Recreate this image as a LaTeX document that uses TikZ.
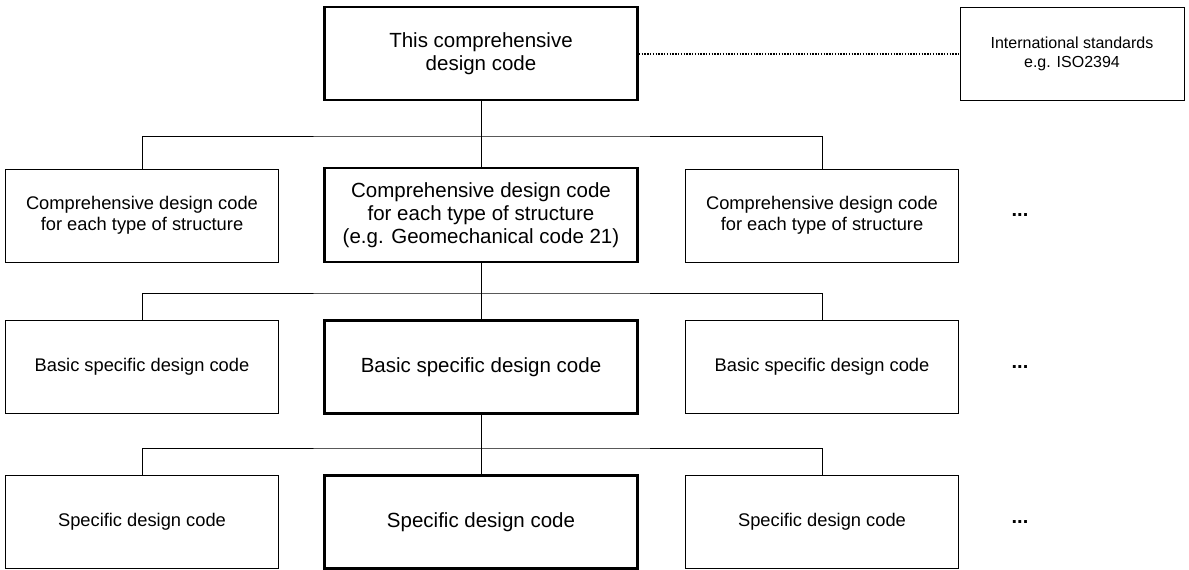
\documentclass[tikz,border=0pt]{standalone}
\usepackage{fontspec}
\setmainfont{Liberation Sans}
\usepackage{tikz}

\begin{document}
\begin{tikzpicture}[x=1pt,y=-1pt,line width=1pt]
% Box styles
\tikzset{
    codebox/.style={
        draw,
        align=center,
        inner sep=0pt,
        minimum height=93pt,
        font=\fontsize{18.3}{21}\selectfont
    },
    sidebox/.style={codebox, minimum width=273pt},
    mainbox/.style={
        codebox,
        line width=2.6pt,
        minimum width=313pt,
        font=\fontsize{20.5}{23}\selectfont
    },
    more/.style={font=\fontsize{20}{22}\selectfont\bfseries}
}
\useasboundingbox (0,0) rectangle (1189,570);
% Top level
\node[mainbox] (top) at (481,53.5) {This comprehensive\\design code};
\node
[
    codebox,
    minimum width=224pt,
    font=\fontsize{16}{19}\selectfont
] (iso) at (1072,53.5) {International standards\\e.g. ISO2394};
\draw[dash pattern=on 1.4pt off 1.4pt,line width=2pt] (top) -- (iso);
% Structure level
\node[sidebox] (struc1) at (142,215.5) {Comprehensive design code\\for each type of structure};
\node[mainbox, minimum height=94pt] (struc2) at (481,215) {Comprehensive design code\\for each type of structure\\(e.g. Geomechanical code 21)};
\node[sidebox] (struc3) at (822,215.5) {Comprehensive design code\\for each type of structure};
\node[more] (dots1) at (1020,215) {...};
% Basic level
\node[sidebox] (basic1) at (142,367) {Basic specific design code};
\node[mainbox] (basic2) at (481,367) {Basic specific design code};
\node[sidebox] (basic3) at (822,367) {Basic specific design code};
\node[more] (dots2) at (1020,367) {...};
% Specific level
\node[sidebox] (spec1) at (142,522) {Specific design code};
\node[mainbox] (spec2) at (481,522) {Specific design code};
\node[sidebox] (spec3) at (822,522) {Specific design code};
\node[more] (dots3) at (1020,522) {...};
% Tree lines
\coordinate (bus1) at (481,136);
\coordinate (bus2) at (481,293);
\coordinate (bus3) at (481,448);
\draw (top) -- (struc2);
\draw (struc1.north) |- (bus1) -| (struc3.north);
\draw (struc2) -- (basic2);
\draw (basic1.north) |- (bus2) -| (basic3.north);
\draw (basic2) -- (spec2);
\draw (spec1.north) |- (bus3) -| (spec3.north);
\end{tikzpicture}
\end{document}
